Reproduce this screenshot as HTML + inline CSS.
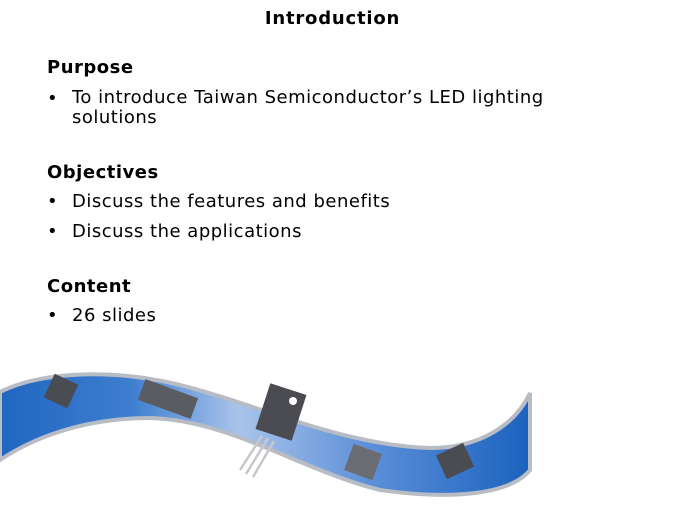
<!DOCTYPE html>
<html><head><style>
body{margin:0;width:675px;height:506px;background:#fff;position:relative;overflow:hidden;font-family:"DejaVu Sans","Liberation Sans",sans-serif;color:#000}
.t{position:absolute;white-space:nowrap;font-size:18px;letter-spacing:0.5px}
.b{font-weight:bold}
</style></head><body>
<div class="t b" style="left:0;width:665px;text-align:center;top:8px;font-size:18px;letter-spacing:0.8px">Introduction</div>
<div class="t b" style="left:47px;top:57px">Purpose</div>
<div class="t" style="left:47px;top:88px">•</div>
<div class="t" style="left:72px;top:88px;line-height:20px">To introduce Taiwan Semiconductor’s LED lighting<br>solutions</div>
<div class="t b" style="left:47px;top:162px">Objectives</div>
<div class="t" style="left:47px;top:191px">•</div>
<div class="t" style="left:72px;top:191px">Discuss the features and benefits</div>
<div class="t" style="left:47px;top:221px">•</div>
<div class="t" style="left:72px;top:221px">Discuss the applications</div>
<div class="t b" style="left:47px;top:276px">Content</div>
<div class="t" style="left:47px;top:305px">•</div>
<div class="t" style="left:72px;top:305px">26 slides</div>
<svg style="position:absolute;left:0;top:0" width="675" height="506">
<defs>
<linearGradient id="g" x1="0" x2="1" y1="0" y2="0">
<stop offset="0" stop-color="#1f66c0"/><stop offset="0.25" stop-color="#3f7fd0"/>
<stop offset="0.45" stop-color="#a9c4ea"/><stop offset="0.7" stop-color="#5b8fd8"/>
<stop offset="1" stop-color="#1b62bf"/></linearGradient>
</defs>
<path d="M0,392 C40,372 110,368 180,385 C260,405 340,445 430,448 C480,448 515,425 530,393 L530,470 C510,495 450,500 380,490 C300,470 230,420 150,418 C80,418 30,440 0,460 Z" fill="url(#g)" stroke="#b8bcc4" stroke-width="4"/>
<g fill="#4a4c52">
<rect x="48" y="378" width="26" height="26" transform="rotate(25 61 391)"/>
<rect x="140" y="388" width="56" height="22" transform="rotate(20 168 399)" fill="#5a5c62"/>
<rect x="262" y="388" width="38" height="48" transform="rotate(18 281 412)"/>
<rect x="348" y="448" width="30" height="28" transform="rotate(20 363 462)" fill="#6a6c72"/>
<rect x="440" y="448" width="30" height="26" transform="rotate(-25 455 461)"/>
</g>
<g stroke="#c8c8cc" stroke-width="2.5">
<line x1="240" y1="470" x2="262" y2="436"/><line x1="246" y1="474" x2="268" y2="438"/><line x1="253" y1="477" x2="274" y2="441"/>
</g>
<circle cx="293" cy="401" r="4" fill="#fff"/>
</svg>
</body></html>
